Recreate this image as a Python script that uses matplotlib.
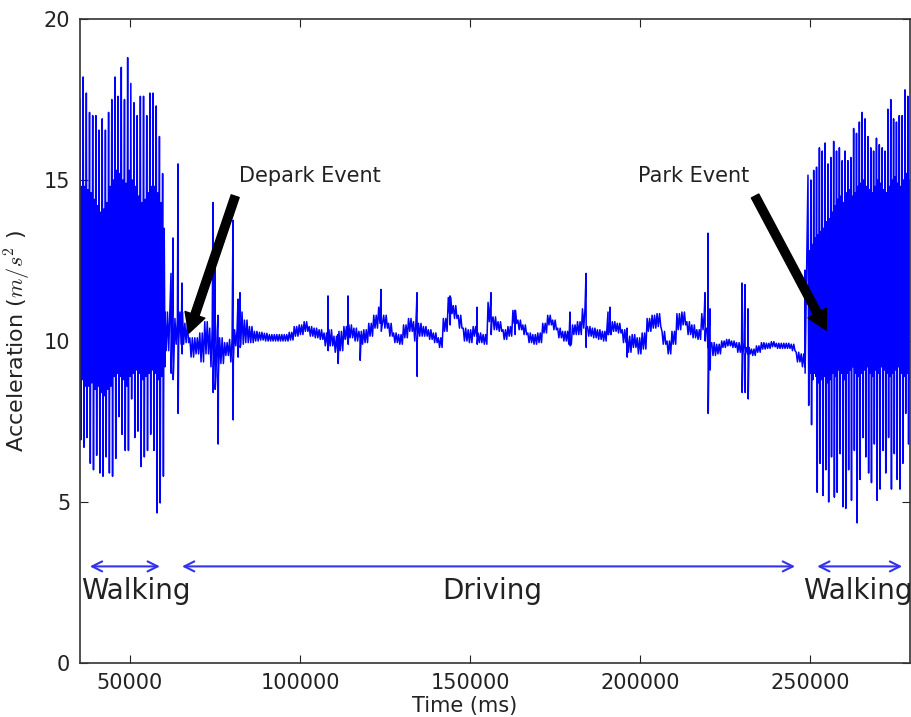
import numpy as np
import matplotlib
matplotlib.use('Agg')
import matplotlib.pyplot as plt

plt.rcParams['mathtext.fontset'] = 'cm'

# Walking (left): one entry per visible step
walk1_peak = [17.5, 18.2, 17.7, 17.1, 17.0, 17.0, 16.55, 16.9, 16.55, 17.1,
              17.5, 18.2, 17.6, 18.5, 17.5, 18.8, 18.0, 17.4, 17.0, 17.6,
              17.6, 17.0, 17.7, 17.7, 17.3, 16.35, 15.2]
walk1_trough = [6.93, 6.7, 7.0, 6.2, 6.0, 6.45, 5.9, 5.8, 6.4, 5.9,
                5.8, 6.35, 7.65, 7.1, 6.6, 6.6, 8.2, 7.0, 7.2, 6.1,
                6.4, 6.6, 7.1, 6.6, 4.66, 4.97, 5.8]
walk1_core_top = [14.8, 14.8, 14.7, 14.6, 14.4, 14.2, 14.0, 14.1, 14.3, 14.8,
                  15.0, 15.3, 15.2, 15.0, 14.9, 15.3, 15.0, 14.8, 14.5, 14.3,
                  14.4, 14.6, 14.8, 14.8, 14.6, 14.3, 13.5]
walk1_core_bot = [8.8, 8.6, 8.6, 8.7, 8.5, 8.6, 8.4, 8.3, 8.5, 8.6,
                  8.9, 9.0, 8.9, 8.8, 8.6, 8.9, 9.0, 9.1, 9.0, 8.8,
                  8.9, 9.0, 9.1, 9.0, 8.8, 8.9, 9.2]
walk1_span = (35300, 60300)

# Driving: level and band half-thickness, every ~1470 ms
drive_mid = [10.3, 10.1, 10.3, 10.4, 10.25, 9.8, 9.85, 9.8, 10.1, 9.8,
             9.6, 9.7, 9.75, 9.7, 10.1, 10.4, 10.3, 10.2, 10.15, 10.15,
             10.12, 10.1, 10.1, 10.1, 10.1, 10.15, 10.3, 10.35, 10.45, 10.3,
             10.25, 10.2, 10.05, 10.1, 9.9, 10.0, 10.25, 10.3, 10.2, 10.1,
             10.15, 10.35, 10.6, 10.8, 10.6, 10.35, 10.1, 10.05, 10.3, 10.5,
             10.3, 10.35, 10.3, 10.2, 10.1, 9.95, 10.5, 11.1, 10.9, 10.6,
             10.2, 10.15, 10.3, 10.1, 10.05, 10.9, 10.55, 10.45, 10.2, 10.3,
             10.75, 10.5, 10.35, 10.1, 10.05, 10.1, 10.4, 10.65, 10.5, 10.25,
             10.15, 10.1, 10.35, 10.4, 10.7, 10.3, 10.25, 10.2, 10.15, 10.4,
             10.45, 10.4, 10.15, 9.9, 10.0, 9.85, 10.0, 10.5, 10.6, 10.65,
             10.1, 9.8, 10.1, 10.6, 10.7, 10.4, 10.3, 10.2, 10.6, 10.1,
             9.75, 9.75, 9.9, 9.95, 9.9, 9.8, 9.75, 9.7, 9.65, 9.75,
             9.85, 9.85, 9.9, 9.85, 9.85, 9.85, 9.8, 9.5, 9.4]
drive_spread = [0.6, 0.9, 0.4, 0.5, 0.3, 0.3, 0.25, 0.45, 0.5, 0.6,
                0.7, 0.4, 0.2, 0.35, 0.25, 0.5, 0.35, 0.25, 0.15, 0.12,
                0.12, 0.1, 0.1, 0.1, 0.1, 0.12, 0.15, 0.15, 0.15, 0.15,
                0.15, 0.15, 0.2, 0.25, 0.25, 0.3, 0.2, 0.2, 0.2, 0.2,
                0.2, 0.2, 0.2, 0.25, 0.2, 0.2, 0.15, 0.15, 0.2, 0.2,
                0.3, 0.2, 0.15, 0.15, 0.15, 0.15, 0.2, 0.25, 0.2, 0.2,
                0.2, 0.2, 0.15, 0.15, 0.15, 0.3, 0.2, 0.15, 0.15, 0.15,
                0.2, 0.15, 0.15, 0.15, 0.15, 0.15, 0.15, 0.15, 0.15, 0.15,
                0.15, 0.2, 0.15, 0.2, 0.3, 0.15, 0.15, 0.15, 0.15, 0.2,
                0.15, 0.15, 0.2, 0.25, 0.2, 0.25, 0.25, 0.2, 0.2, 0.2,
                0.2, 0.2, 0.2, 0.25, 0.2, 0.2, 0.2, 0.15, 0.25, 0.3,
                0.2, 0.15, 0.1, 0.1, 0.1, 0.15, 0.2, 0.1, 0.1, 0.1,
                0.1, 0.08, 0.08, 0.08, 0.08, 0.08, 0.1, 0.15, 0.2]
drive_span = (60300, 248500)

# Single sharp spikes (bumps, braking, etc.)
spike_t = [62060, 62650, 64120, 65300, 74420, 75000, 75890, 80300, 81770, 82360,
           108240, 111180, 114120, 117650, 123830, 134420, 144120, 152060, 156180, 163230,
           179410, 184120, 190590, 191180, 196170, 219110, 220000, 220590, 229990, 230880,
           231760, 248500]
spike_top = [12.1, 13.2, 15.5, 11.8, 14.3, 13.0, 10.8, 13.75, 11.3, 11.5,
             11.4, 10.2, 11.4, 10.1, 11.6, 11.5, 11.4, 11.05, 11.5, 10.95,
             10.9, 12.1, 10.9, 11.05, 10.4, 11.5, 13.35, 11.0, 11.8, 11.75,
             11.0, 12.2]
spike_bot = [9.0, 8.8, 7.75, 9.6, 8.4, 8.5, 6.8, 7.55, 9.5, 9.8,
             9.7, 9.3, 9.9, 9.4, 10.3, 8.9, 10.5, 9.9, 10.2, 10.2,
             9.85, 9.8, 10.2, 10.3, 9.5, 10.0, 7.75, 9.1, 8.4, 8.4,
             8.2, 9.0]

# Walking (right)
walk2_peak = [15.15, 15.0, 15.3, 15.4, 16.0, 15.9, 16.15, 15.5, 15.7, 16.2,
              15.9, 16.0, 15.6, 15.9, 15.6, 15.7, 16.6, 16.45, 16.8, 17.1,
              16.9, 16.35, 16.0, 15.9, 16.3, 16.1, 16.0, 15.9, 17.2, 17.5,
              16.9, 16.8, 17.0, 17.0, 17.8, 17.6]
walk2_trough = [8.0, 7.4, 9.0, 5.3, 6.2, 5.2, 6.0, 5.0, 6.4, 5.15,
                5.3, 6.5, 4.85, 4.8, 6.0, 5.05, 6.6, 4.35, 5.7, 7.0,
                6.4, 5.9, 5.6, 6.8, 5.05, 5.4, 6.6, 5.9, 7.0, 5.4,
                6.5, 5.7, 5.4, 6.2, 7.75, 6.8]
walk2_core_top = [12.8, 13.0, 13.2, 13.3, 13.4, 13.5, 13.7, 13.8, 14.0, 14.2,
                  14.4, 14.5, 14.3, 14.6, 14.7, 14.5, 14.6, 14.8, 14.9, 15.0,
                  14.8, 14.7, 14.6, 14.8, 15.0, 14.9, 14.7, 14.6, 14.8, 15.0,
                  15.1, 14.9, 14.8, 15.0, 15.2, 15.0]
walk2_core_bot = [9.0, 8.8, 8.9, 8.7, 8.8, 8.9, 8.7, 8.8, 9.0, 8.9,
                  9.1, 9.0, 8.8, 9.0, 9.1, 9.2, 9.0, 8.9, 9.0, 9.1,
                  9.2, 9.0, 8.9, 9.1, 9.0, 9.2, 9.1, 9.0, 8.9, 9.0,
                  9.1, 9.2, 9.0, 8.9, 9.0, 8.8]
walk2_span = (249400, 279400)


def walking(peak, trough, top, bot, span):
    vals = np.column_stack([peak, trough, top, bot]).ravel()
    t = np.linspace(span[0], span[1], len(vals))
    return t, vals


t1, v1 = walking(walk1_peak, walk1_trough, walk1_core_top, walk1_core_bot, walk1_span)
t3, v3 = walking(walk2_peak, walk2_trough, walk2_core_top, walk2_core_bot, walk2_span)

# driving band: zig-zag between the upper and lower edge
hi = np.array(drive_mid) + np.array(drive_spread)
lo = np.array(drive_mid) - np.array(drive_spread)
v2 = np.column_stack([hi, lo, hi, lo]).ravel()
t2 = np.linspace(drive_span[0], drive_span[1], len(v2))

ts = np.column_stack([spike_t, np.array(spike_t) + 60]).ravel()
vs = np.column_stack([spike_top, spike_bot]).ravel()

t = np.concatenate([t1, t2, ts, t3])
v = np.concatenate([v1, v2, vs, v3])
order = np.argsort(t, kind='stable')
t, v = t[order], v[order]

fig = plt.figure(figsize=(9.12, 7.17), dpi=100)
ax = fig.add_axes([0.0877, 0.0753, 0.9101, 0.8982])
ax.plot(t, v, color='#0000ff', lw=1.1)

ax.set_xlim(35300, 279400)
ax.set_ylim(0, 20)
ax.set_xticks([50000, 100000, 150000, 200000, 250000])
ax.set_yticks([0, 5, 10, 15, 20])
ax.tick_params(direction='in', top=True, right=True, length=5.5,
               labelsize=15, pad=7, colors='#222222')
for s in ax.spines.values():
    s.set_color('#333333')
    s.set_linewidth(1.2)

ax.set_xlabel('Time (ms)', fontsize=15, color='#222222')
ax.set_ylabel('Acceleration ($m/s^2$ )', fontsize=16, color='#222222')
ax.xaxis.set_label_coords(0.463, -0.052)
ax.yaxis.set_label_coords(-0.057, 0.50)

# event arrows
ev = dict(facecolor='black', edgecolor='black', shrink=0.05,
          width=6, headwidth=15, headlength=14)
ax.annotate('Depark Event', xy=(66500, 10.0), xytext=(82000, 14.95),
            fontsize=15, color='#222222', arrowprops=ev)
ax.annotate('Park Event', xy=(256000, 10.1), xytext=(199500, 14.95),
            fontsize=15, color='#222222', arrowprops=ev)

# phase ranges
rng = dict(arrowstyle='<->', color='#3333ee', lw=1.5,
           shrinkA=0, shrinkB=0, mutation_scale=18)
ax.annotate('', xy=(38200, 3.0), xytext=(58800, 3.0), arrowprops=rng)
ax.annotate('', xy=(65300, 3.0), xytext=(245600, 3.0), arrowprops=rng)
ax.annotate('', xy=(252100, 3.0), xytext=(277100, 3.0), arrowprops=rng)

ax.text(51800, 2.0, 'Walking', fontsize=20, ha='center', color='#222222')
ax.text(156500, 2.0, 'Driving', fontsize=20, ha='center', color='#222222')
ax.text(264100, 2.0, 'Walking', fontsize=20, ha='center', color='#222222',
        clip_on=False)

fig.savefig('out.png', dpi=100)
